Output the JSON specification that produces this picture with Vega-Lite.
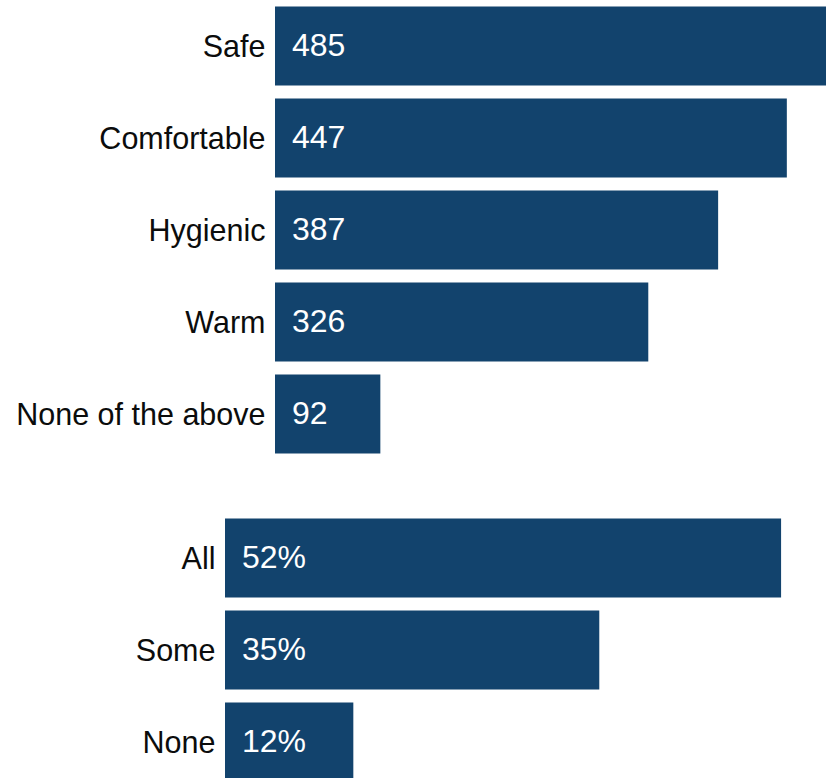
{
  "$schema": "https://vega.github.io/schema/vega-lite/v6.json",
  "padding": {"left": 0, "top": 0, "right": 0, "bottom": -10},
  "autosize": {"type": "pad"},
  "spacing": 52,
  "config": {
    "view": {"stroke": null},
    "axis": {"labelFont": "Liberation Sans", "labelFontSize": 30.5, "labelColor": "#0b0c0c", "labelLimit": 400, "labelOffset": 2, "domain": false, "ticks": false, "grid": false, "title": null, "labelPadding": 10}
  },
  "datasets": {
    "qualities": [
      {"quality": "Safe", "count": 485},
      {"quality": "Comfortable", "count": 447},
      {"quality": "Hygienic", "count": 387},
      {"quality": "Warm", "count": 326},
      {"quality": "None of the above", "count": 92}
    ],
    "shares": [
      {"answer": "All", "share": 0.52},
      {"answer": "Some", "share": 0.35},
      {"answer": "None", "share": 0.12}
    ]
  },
  "vconcat": [
    {
      "width": 551,
      "height": 460,
      "data": {"name": "qualities"},
      "encoding": {
        "y": {"field": "quality", "type": "nominal", "sort": null,
              "scale": {"paddingInner": 0.14, "paddingOuter": 0.07},
              "axis": {"minExtent": 275}}
      },
      "layer": [
        {
          "mark": {"type": "bar", "color": "#12436d", "clip": true},
          "encoding": {"x": {"field": "count", "type": "quantitative", "scale": {"domain": [0, 481.2], "nice": false}, "axis": null}}
        },
        {
          "mark": {"type": "text", "color": "#ffffff", "align": "left", "baseline": "middle", "dx": 17, "font": "Liberation Sans", "fontSize": 32},
          "encoding": {"x": {"datum": 0, "type": "quantitative"}, "text": {"field": "count", "type": "quantitative"}}
        }
      ]
    },
    {
      "width": 551,
      "height": 276,
      "data": {"name": "shares"},
      "encoding": {
        "y": {"field": "answer", "type": "nominal", "sort": null,
              "scale": {"paddingInner": 0.14, "paddingOuter": 0.07},
              "axis": {"labelPadding": 60}}
      },
      "layer": [
        {
          "mark": {"type": "bar", "color": "#12436d"},
          "encoding": {"x": {"field": "share", "type": "quantitative", "scale": {"domain": [0, 0.562], "range": [-50, 551], "nice": false}, "axis": null}}
        },
        {
          "mark": {"type": "text", "color": "#ffffff", "align": "left", "baseline": "middle", "dx": 17, "font": "Liberation Sans", "fontSize": 32},
          "encoding": {"x": {"datum": 0, "type": "quantitative"}, "text": {"field": "share", "type": "quantitative", "format": ".0%"}}
        }
      ]
    }
  ]
}
